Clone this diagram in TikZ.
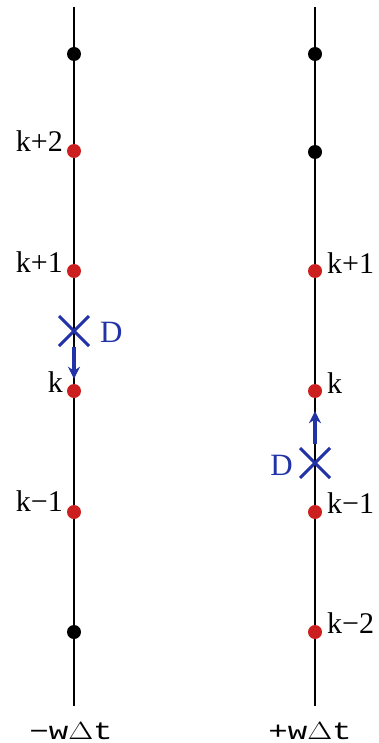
\documentclass[tikz,border=0pt]{standalone}
\usepackage{fontspec}
\setmainfont{Liberation Serif}
\newfontfamily\axisfont{Liberation Mono}
\usetikzlibrary{shapes.misc,arrows.meta}
\definecolor{ptred}{HTML}{CC1F1F}
\definecolor{dblue}{HTML}{2233A8}
\newcommand{\axistext}[1]{\scalebox{1.3}[1]{\axisfont\fontsize{25}{25}\selectfont #1}}
\begin{document}
\begin{tikzpicture}[x=1pt,y=-1pt,
  axis/.style={line width=1.8pt,black},
  gridpt/.style={circle,fill=black,inner sep=0pt,minimum size=14pt},
  redpt/.style={circle,fill=ptred,inner sep=0pt,minimum size=14pt},
  idx/.style={font=\fontsize{30}{30}\selectfont,inner sep=0pt},
  cross/.style={cross out,draw=dblue,line width=3pt,inner sep=0pt,minimum size=27pt},
  dlab/.style={font=\fontsize{31}{31}\selectfont,text=dblue,inner sep=0pt},
  move/.style={dblue,line width=3.2pt,-{Stealth[length=12pt,width=12pt]}},
  axlab/.style={inner sep=0pt,anchor=base}]
\fill[white] (0,0) rectangle (379,743);
\useasboundingbox (0,0) rectangle (379,743);

% left axis
\coordinate (lt) at (74,7);
\coordinate (lb) at (74,706);
\draw[axis] (lt) -- (lb);
\node[gridpt] (l1) at (74,54) {};
\node[redpt] (l2) at (74,151) {};
\node[redpt] (l3) at (74,271) {};
\node[redpt] (l4) at (74,391) {};
\node[redpt] (l5) at (74,512) {};
\node[gridpt] (l6) at (74,632) {};
\node[idx,anchor=base east] (tl2) at (63,152) {k+2};
\node[idx,anchor=base east] (tl3) at (63,272) {k+1};
\node[idx,anchor=base east] (tl4) at (63,392) {k};
\node[idx,anchor=base east] (tl5) at (63,511) {k\textminus1};
\node[cross] (xl) at (74,331) {};
\node[dlab,anchor=base west] (dl) at (100,342) {D};
\draw[move,shorten <=1pt,shorten >=5pt] (xl.south) -- (l4.north);
\node[axlab] (al) at (71,739) {\axistext{\textminus w\(\Delta\)t}};

% right axis
\coordinate (rt) at (315,7);
\coordinate (rb) at (315,706);
\draw[axis] (rt) -- (rb);
\node[gridpt] (r1) at (315,54) {};
\node[gridpt] (r2) at (315,152) {};
\node[redpt] (r3) at (315,271) {};
\node[redpt] (r4) at (315,391) {};
\node[redpt] (r5) at (315,512) {};
\node[redpt] (r6) at (315,632) {};
\node[idx,anchor=base west] (tr3) at (327,273) {k+1};
\node[idx,anchor=base west] (tr4) at (327,393) {k};
\node[idx,anchor=base west] (tr5) at (327,513) {k\textminus1};
\node[idx,anchor=base west] (tr6) at (327,633) {k\textminus2};
\node[cross] (xr) at (315,463) {};
\node[dlab,anchor=base east] (dr) at (293,475) {D};
\draw[move,shorten <=4pt,shorten >=13pt] (xr.north) -- (r4.south);
\node[axlab] (ar) at (310,739) {\axistext{+w\(\Delta\)t}};
\end{tikzpicture}
\end{document}
